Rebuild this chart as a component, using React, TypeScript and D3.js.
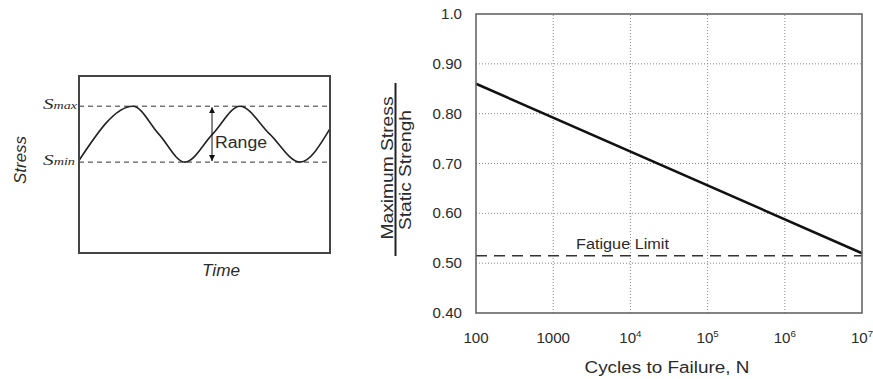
import React from "react";
import * as d3 from "d3";

// ---- S-N curve (right panel) ----
const cycleTicks = [100, 1000, 1e4, 1e5, 1e6, 1e7];
const cycleTickBase = ["100", "1000", "10", "10", "10", "10"];
const cycleTickExp = ["", "", "4", "5", "6", "7"];
const ratioTicks = [1.0, 0.9, 0.8, 0.7, 0.6, 0.5, 0.4];
const ratioTickLabels = ["1.0", "0.90", "0.80", "0.70", "0.60", "0.50", "0.40"];
const snCycles = [100, 1e7];
const snRatio = [0.86, 0.52];
const fatigueLimit = 0.515;

// ---- cyclic stress history (left panel) ----
const waveTime = [0, 21.5, 31.8, 42.2, 53.2, 64.1, 76, 88, 100];
const waveStress = [0.03, 1, 0.5, 0, 0.5, 1, 0.5, 0, 0.6];
const sMin = 0;
const sMax = 1;
const rangeAt = 53;

const FONT = "'Liberation Sans', Arial, Helvetica, sans-serif";
const SERIF = "'Liberation Serif', 'Times New Roman', serif";
const INK = "#2b2b2b";
const STRETCH = 1.08;

export default function App() {
  // right panel scales
  const x = d3.scaleLog().domain([100, 1e7]).range([476, 862]);
  const y = d3.scaleLinear().domain([0.4, 1.0]).range([313, 14]);

  // left panel scales
  const t = d3.scaleLinear().domain([0, 100]).range([79, 330]);
  const s = d3.scaleLinear().domain([-1.625, 1.54]).range([253, 76]);

  const snLine = d3
    .line<number>()
    .x((_, i) => x(snCycles[i]))
    .y((d) => y(d))(snRatio);

  const wave = d3
    .line<number>()
    .x((_, i) => t(waveTime[i]))
    .y((d) => s(d))
    .curve(d3.curveMonotoneX)(waveStress);

  const [x0, x1] = x.range();
  const [yb, yt] = y.range();
  const [t0, t1] = t.range();
  const [sb, st] = s.range();

  return (
    <svg
      width={873}
      height={379}
      style={{ position: "absolute", left: 0, top: 0, background: "#fff" }}
      fontFamily={FONT}
    >
      <defs>
        <marker id="ah" viewBox="0 0 10 10" refX="10" refY="5" markerWidth="6" markerHeight="8" orient="auto-start-reverse" markerUnits="userSpaceOnUse">
          <path d="M0,0 L10,5 L0,10 z" fill="#111" />
        </marker>
      </defs>

      {/* ===== Left panel: stress vs time ===== */}
      <line x1={t0} x2={t1} y1={s(sMax)} y2={s(sMax)} stroke="#333" strokeWidth={1} strokeDasharray="5,4" />
      <line x1={t0} x2={t1} y1={s(sMin)} y2={s(sMin)} stroke="#333" strokeWidth={1} strokeDasharray="5,4" />
      <path d={wave ?? ""} fill="none" stroke="#222" strokeWidth={1.6} />
      <line
        x1={t(rangeAt)}
        x2={t(rangeAt)}
        y1={(s(sMax) + s(sMin)) / 2}
        y2={s(sMax) + 1}
        stroke="#111"
        strokeWidth={1}
        markerEnd="url(#ah)"
      />
      <line
        x1={t(rangeAt)}
        x2={t(rangeAt)}
        y1={(s(sMax) + s(sMin)) / 2}
        y2={s(sMin) - 1}
        stroke="#111"
        strokeWidth={1}
        markerEnd="url(#ah)"
      />
      <text x={t(rangeAt) + 3} y={148} fontSize={16} fill={INK} textLength={52} lengthAdjust="spacingAndGlyphs">
        Range
      </text>
      <rect x={t0} y={st} width={t1 - t0} height={sb - st} fill="none" stroke="#444" strokeWidth={2} />

      <text x={43} y={s(sMax) + 3} fontFamily={SERIF} fontStyle="italic" fill={INK} textLength={34} lengthAdjust="spacingAndGlyphs">
        <tspan fontSize={15}>S</tspan>
        <tspan fontSize={10}>max</tspan>
      </text>
      <text x={43} y={s(sMin) + 3} fontFamily={SERIF} fontStyle="italic" fill={INK} textLength={32} lengthAdjust="spacingAndGlyphs">
        <tspan fontSize={15}>S</tspan>
        <tspan fontSize={10}>min</tspan>
      </text>
      <text
        transform="translate(26,160) rotate(-90)"
        textAnchor="middle"
        fontSize={16}
        fontStyle="italic"
        fill={INK}
        textLength={48}
        lengthAdjust="spacingAndGlyphs"
      >
        Stress
      </text>
      <text x={221} y={276} textAnchor="middle" fontSize={16} fontStyle="italic" fill={INK} textLength={38} lengthAdjust="spacingAndGlyphs">
        Time
      </text>

      {/* ===== Right panel: S-N diagram ===== */}
      {ratioTicks.slice(1, -1).map((v) => (
        <line key={"gy" + v} x1={x0} x2={x1} y1={y(v)} y2={y(v)} stroke="#888" strokeWidth={1} strokeDasharray="1,2" />
      ))}
      {cycleTicks.slice(1, -1).map((v) => (
        <line key={"gx" + v} x1={x(v)} x2={x(v)} y1={yb} y2={yt} stroke="#888" strokeWidth={1} strokeDasharray="1,2" />
      ))}

      <line x1={x0} x2={x1} y1={y(fatigueLimit)} y2={y(fatigueLimit)} stroke="#333" strokeWidth={1.4} strokeDasharray="11,7" />
      <text x={576} y={249} fontSize={14} fill={INK} textLength={93} lengthAdjust="spacingAndGlyphs">
        Fatigue Limit
      </text>

      <path d={snLine ?? ""} fill="none" stroke="#111" strokeWidth={2.6} />

      <rect x={x0} y={yt} width={x1 - x0} height={yb - yt} fill="none" stroke="#666" strokeWidth={1.6} />

      {ratioTicks.map((v, i) => (
        <text
          key={"ty" + v}
          transform={`translate(462,${y(v) + 5}) scale(${STRETCH},1)`}
          textAnchor="end"
          fontSize={14}
          fill={INK}
        >
          {ratioTickLabels[i]}
        </text>
      ))}

      {cycleTicks.map((v, i) => (
        <text
          key={"tx" + v}
          transform={`translate(${x(v)},343) scale(${STRETCH},1)`}
          textAnchor="middle"
          fontSize={14}
          fill={INK}
        >
          {cycleTickBase[i]}
          {cycleTickExp[i] && (
            <tspan fontSize={9} dy={-6}>
              {cycleTickExp[i]}
            </tspan>
          )}
        </text>
      ))}

      <text x={667} y={373} textAnchor="middle" fontSize={16} fill={INK} textLength={165} lengthAdjust="spacingAndGlyphs">
        Cycles to Failure, N
      </text>

      <text
        transform="translate(393,168) rotate(-90)"
        textAnchor="middle"
        fontSize={17}
        fill={INK}
        textLength={143}
        lengthAdjust="spacingAndGlyphs"
      >
        Maximum Stress
      </text>
      <line x1={395.5} x2={395.5} y1={83} y2={256} stroke="#222" strokeWidth={2} />
      <text
        transform="translate(411,170) rotate(-90)"
        textAnchor="middle"
        fontSize={17}
        fill={INK}
        textLength={120}
        lengthAdjust="spacingAndGlyphs"
      >
        Static Strengh
      </text>
    </svg>
  );
}
